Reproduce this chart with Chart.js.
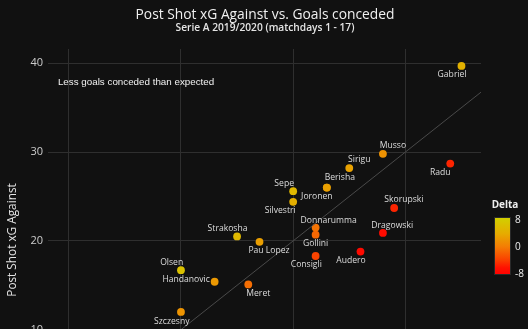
<!DOCTYPE html>
<html>
<head>
<meta charset="utf-8">
<script src="https://cdn.jsdelivr.net/npm/chart.js@4.4.0/dist/chart.umd.min.js"></script>
<style>
  html, body { margin: 0; padding: 0; background: #111111; overflow: hidden; width: 528px; height: 329px; }
  #wrap { position: relative; width: 528px; height: 470px; }
</style>
</head>
<body>
<div id="wrap"><canvas id="c" width="528" height="470"></canvas></div>
<script>
// ---- data ----
const keepers = ['Gabriel','Musso','Sirigu','Radu','Berisha','Joronen','Sepe','Silvestri','Donnarumma','Gollini','Consigli','Audero','Dragowski','Skorupski','Strakosha','Pau Lopez','Olsen','Handanovic','Meret','Szczesny'];
const goalsConceded = [35, 28, 25, 34, 23, 23, 20, 20, 22, 22, 22, 26, 28, 29, 15, 17, 10, 13, 16, 10];
const psxgAgainst   = [39.7, 29.8, 28.2, 28.7, 26.0, 26.0, 25.6, 24.4, 21.5, 20.7, 18.3, 18.8, 20.9, 23.7, 20.5, 19.9, 16.7, 15.4, 15.1, 12.0];
const delta         = [4.7, 1.8, 3.2, -5.3, 3.0, 3.0, 5.6, 4.4, -0.5, -1.3, -3.7, -7.2, -7.1, -5.3, 5.5, 2.9, 6.7, 2.4, -0.9, 2.0];
const identityLine  = [-5, 45];           // y = x reference line extent
const yTicks        = [0, 10, 20, 30, 40];
const colorbarTicks = [8, 0, -8];

// ---- styling (label offsets in px, relative to the point) ----
const labelOffsets = [[-9.4,9],[10,-8.3],[10,-8],[-10,9],[13,-10],[-10,8.7],[-9,-8],[-13,8.7],[13,-7.3],[0,9.3],[-9.3,8.3],[-9.5,9],[9.3,-7.7],[9.7,-8.3],[-9.5,-8],[9.5,8.7],[-9.3,-8],[-28.5,-2.4],[10,9],[-9.2,9.3]];
const cStops = [[-8.4,[255,0,0]],[-6.2,[255,18,0]],[-4,[250,62,0]],[0,[244,124,4]],[4,[230,172,0]],[8.9,[208,210,0]]];
function deltaColor(v){
  if (v <= cStops[0][0]) return 'rgb(' + cStops[0][1].join(',') + ')';
  for (let i = 1; i < cStops.length; i++) {
    if (v <= cStops[i][0]) {
      const [a, ca] = cStops[i-1], [b, cb] = cStops[i];
      const t = (v - a) / (b - a);
      return 'rgb(' + ca.map((c, k) => Math.round(c + (cb[k] - c) * t)).join(',') + ')';
    }
  }
  return 'rgb(' + cStops[cStops.length-1][1].join(',') + ')';
}

const points = keepers.map((n, i) => ({x: goalsConceded[i], y: psxgAgainst[i]}));

const overlay = {
  id: 'overlay',
  afterDatasetsDraw(chart) {
    const ctx = chart.ctx, xs = chart.scales.x, ys = chart.scales.y;
    const meta = chart.getDatasetMeta(1);
    ctx.save();
    ctx.font = '8.6px "Open Sans"';
    ctx.fillStyle = '#dddddd';
    ctx.textAlign = 'center';
    ctx.textBaseline = 'middle';
    meta.data.forEach((el, i) => {
      ctx.fillText(keepers[i], el.x + labelOffsets[i][0], el.y + labelOffsets[i][1]);
    });
    // annotation
    ctx.font = '9.8px "Liberation Sans", Arial';
    ctx.fillStyle = '#f2f2f2';
    ctx.fillText('Less goals conceded than expected', xs.getPixelForValue(6.0), ys.getPixelForValue(37.9));
    ctx.restore();
  },
  afterDraw(chart) {
    const ctx = chart.ctx;
    ctx.save();
    ctx.textAlign = 'center';
    ctx.textBaseline = 'middle';
    ctx.fillStyle = '#f0f0f0';
    ctx.font = '13.8px "Open Sans"';
    ctx.fillText('Post Shot xG Against vs. Goals conceded', 265, 15);
    ctx.fillStyle = '#e4e4e4';
    ctx.font = '600 10.2px "Open Sans"';
    ctx.fillText('Serie A 2019/2020 (matchdays 1 - 17)', 265, 28);
    // colorbar
    const bx = 494, by = 217, bw = 17, bh = 58;
    const vTop = 8.9, vBot = -8.4;
    const g = ctx.createLinearGradient(0, by, 0, by + bh);
    cStops.forEach(([v, c]) => {
      g.addColorStop(Math.min(1, Math.max(0, (vTop - v) / (vTop - vBot))), 'rgb(' + c.join(',') + ')');
    });
    ctx.fillStyle = g;
    ctx.fillRect(bx, by, bw, bh);
    ctx.strokeStyle = '#2a2a2a';
    ctx.lineWidth = 1;
    ctx.strokeRect(bx + 0.5, by + 0.5, bw - 1, bh - 1);
    ctx.fillStyle = '#eeeeee';
    ctx.font = 'bold 10px "Open Sans"';
    ctx.fillText('Delta', 505, 205);
    ctx.font = '10px "Open Sans"';
    ctx.textAlign = 'left';
    colorbarTicks.forEach(t => {
      const y = by + (vTop - t) / (vTop - vBot) * bh;
      ctx.fillText(String(t), 515, y);
    });
    ctx.restore();
  }
};

new Chart(document.getElementById('c'), {
  type: 'scatter',
  data: {
    datasets: [
      {
        type: 'line',
        data: identityLine.map(v => ({x: v, y: v})),
        borderColor: '#4a4a4a',
        borderWidth: 1,
        pointRadius: 0,
        fill: false
      },
      {
        data: points,
        pointRadius: 3.9,
        pointHoverRadius: 3.9,
        borderWidth: 0,
        backgroundColor: delta.map(deltaColor),
        pointBorderColor: delta.map(deltaColor)
      }
    ]
  },
  options: {
    responsive: false,
    animation: false,
    devicePixelRatio: 1,
    layout: { padding: { top: 49, right: 47, left: 0, bottom: 0 } },
    plugins: { legend: { display: false }, tooltip: { enabled: false }, title: { display: false } },
    scales: {
      x: {
        type: 'linear',
        min: -1.85, max: 36.74,
        afterFit: s => { s.height = 39; },
        grid: { color: '#2f2f2f', drawTicks: false, lineWidth: 1 },
        border: { display: false },
        ticks: { stepSize: 10, includeBounds: false, color: '#cccccc', font: { family: 'Open Sans', size: 11 }, padding: 5 },
        title: { display: true, text: 'Goals conceded', color: '#dddddd', font: { family: 'Open Sans', size: 12 } }
      },
      y: {
        type: 'linear',
        min: -1.4, max: 41.6,
        afterFit: s => { s.width = 48; },
        afterBuildTicks: s => { s.ticks = yTicks.map(v => ({value: v})); },
        grid: { color: '#2f2f2f', drawTicks: false, lineWidth: 1 },
        border: { display: false },
        ticks: { color: '#cccccc', font: { family: 'Open Sans', size: 11 }, padding: 5 },
        title: { display: true, text: 'Post Shot xG Against', color: '#e4e4e4', font: { family: 'Open Sans', size: 11.8 }, padding: { top: 6, bottom: 0 } }
      }
    }
  },
  plugins: [overlay]
});
</script>
</body>
</html>
